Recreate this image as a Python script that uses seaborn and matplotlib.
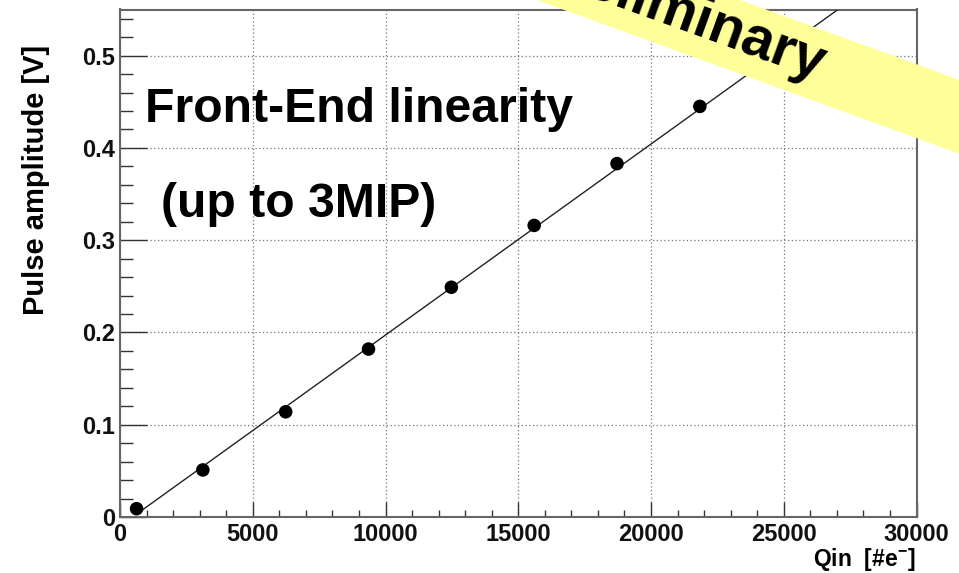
import numpy as np
import pandas as pd
import matplotlib
matplotlib.use("Agg")
import matplotlib.pyplot as plt
from matplotlib.ticker import MultipleLocator, FuncFormatter
from matplotlib.patches import Polygon
import seaborn as sns

# ---- data ----
qin_electrons = [624, 3120, 6240, 9360, 12480, 15600, 18720, 21840]
pulse_amplitude = [0.009, 0.051, 0.114, 0.182, 0.249, 0.316, 0.383, 0.445]
fit_slope = 2.07e-5
fit_intercept = -0.0098
fit_range = [624, 30000]

x_ticks = [0, 5000, 10000, 15000, 20000, 25000, 30000]
y_ticks = [0, 0.1, 0.2, 0.3, 0.4, 0.5]

title_line1 = "Front-End linearity"
title_line2 = "(up to 3MIP)"
banner_text = "Preliminary"
x_label = "Qin  [#e$^{-}$]"
y_label = "Pulse amplitude [V]"

# ---- style ----
sns.set_style("ticks")
plt.rcParams["font.family"] = ["Liberation Sans", "DejaVu Sans"]
plt.rcParams["font.weight"] = "bold"
plt.rcParams["mathtext.fontset"] = "custom"
plt.rcParams["mathtext.rm"] = "Liberation Sans:bold"
plt.rcParams["mathtext.default"] = "rm"

W, H = 959, 573
fig = plt.figure(figsize=(W / 100, H / 100), dpi=100)
fig.patch.set_facecolor("white")

def fx(px):
    return px / W

def fy(py):
    return (H - py) / H

ax = fig.add_axes([fx(120), fy(517), fx(916.5) - fx(120), fy(9.5) - fy(517)])
ax.set_facecolor("white")

df = pd.DataFrame({"qin": qin_electrons, "amp": pulse_amplitude})
fit_x = np.array(fit_range, dtype=float)
fit_df = pd.DataFrame({"qin": fit_x, "amp": fit_slope * fit_x + fit_intercept})

sns.lineplot(data=fit_df, x="qin", y="amp", ax=ax, color="#222222",
             linewidth=1.0, zorder=3)
sns.scatterplot(data=df, x="qin", y="amp", ax=ax, color="black", s=95,
                edgecolor="none", zorder=4)

ax.set_xlim(x_ticks[0], x_ticks[-1])
ax.set_ylim(0, 0.55)
ax.set_xticks(x_ticks)
ax.set_yticks(y_ticks)
ax.xaxis.set_minor_locator(MultipleLocator(1000))
ax.yaxis.set_minor_locator(MultipleLocator(0.02))
ax.xaxis.set_major_formatter(FuncFormatter(lambda v, p: f"{int(round(v))}"))
ax.yaxis.set_major_formatter(FuncFormatter(lambda v, p: "0" if abs(v) < 1e-9 else f"{v:g}"))

ax.tick_params(axis="both", which="both", direction="in", color="#333333",
               width=1.0, labelsize=17, labelcolor="#111111",
               top=False, right=False)
ax.tick_params(axis="x", which="major", length=10.8, pad=4)
ax.tick_params(axis="x", which="minor", length=5.2)
ax.tick_params(axis="y", which="major", length=19.4, pad=3.6)
ax.tick_params(axis="y", which="minor", length=9.4)
for lab in ax.get_xticklabels() + ax.get_yticklabels():
    lab.set_fontweight("bold")

ax.grid(True, which="major", linestyle=(0, (1, 2)), color="#777777", linewidth=0.9)
for s in ax.spines.values():
    s.set_visible(True)
    s.set_color("#666666")
    s.set_linewidth(1.5)
ax.set_xlabel("")
ax.set_ylabel("")

# axis titles (ROOT style, aligned to the axis ends)
fig.text(fx(36), fy(45), y_label, rotation=90, ha="center", va="top",
         fontsize=21, fontweight="bold", color="black")
fig.text(fx(915), fy(566), x_label, ha="right", va="baseline",
         fontsize=16.5, fontweight="bold", color="black")

# in-plot annotations
fig.text(fx(145), fy(122), title_line1, ha="left", va="baseline",
         fontsize=34.7, fontweight="bold", color="black")
fig.text(fx(161), fy(217), title_line2, ha="left", va="baseline",
         fontsize=34.7, fontweight="bold", color="black")

# "Preliminary" banner
t = np.tan(np.deg2rad(20))
lower = [(400, -(537 - 400) * t), (1000, (1000 - 537) * t)]
upper = [(1000, (1000 - 740) * t), (600, -(740 - 600) * t)]
poly_pts = [(fx(px), fy(py)) for px, py in lower + upper]
fig.patches.append(Polygon(poly_pts, closed=True, transform=fig.transFigure,
                           facecolor="#ffff99", edgecolor="none", zorder=5))
fig.text(fx(526), fy(-25), banner_text, rotation=-20, rotation_mode="anchor",
         ha="left", va="baseline", fontsize=41, fontweight="bold",
         color="black", zorder=6)

fig.savefig("out.png", dpi=100, facecolor="white")
